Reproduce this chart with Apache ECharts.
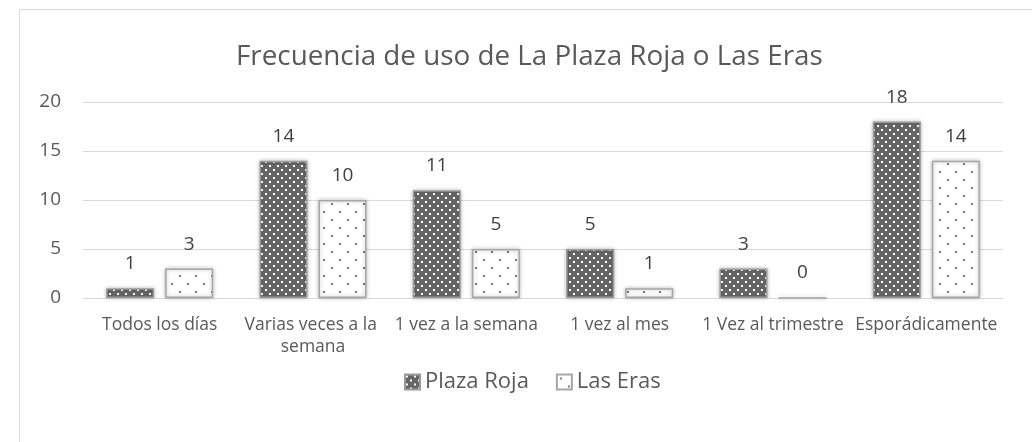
<!DOCTYPE html>
<html>
<head>
<meta charset="utf-8">
<script src="https://cdn.jsdelivr.net/npm/echarts@6/dist/echarts.min.js"></script>
<style>
  html, body { margin: 0; padding: 0; background: #fff; }
  #chart { width: 1032px; height: 442px; }
</style>
</head>
<body>
<div id="chart"></div>
<script>
// datos
const categories = ['Todos los días', 'Varias veces a la semana', '1 vez a la semana', '1 vez al mes', '1 Vez al trimestre', 'Esporádicamente']
const plazaRoja = [1, 14, 11, 5, 3, 18]
const lasEras = [3, 10, 5, 1, 0, 14]
const yTicks = { min: 0, max: 20, interval: 5 }

// tramas tipo Excel
function makePattern (w, h, bg, dot, dots) {
  const c = document.createElement('canvas')
  c.width = w
  c.height = h
  const ctx = c.getContext('2d')
  ctx.fillStyle = bg
  ctx.fillRect(0, 0, w, h)
  ctx.fillStyle = dot
  dots.forEach(function (d) {
    ctx.fillRect(d[0], d[1], d[2], d[3])
  })
  return { image: c, repeat: 'repeat' }
}

const darkDots = makePattern(8, 8, '#666666', '#ffffff', [[1, 1, 2, 2], [5, 5, 2, 2]])
const lightDots = makePattern(16, 16, '#ffffff', '#7a7a7a', [[3, 3, 2, 2], [11, 11, 2, 2]])

const chart = echarts.init(document.getElementById('chart'))

const barCommon = {
  type: 'bar',
  barWidth: 48,
  barGap: '23%',
  label: {
    show: true,
    position: 'top',
    distance: 15,
    color: '#404040',
    fontSize: 19,
    fontFamily: 'Open Sans'
  }
}

const option = {
  animation: false,
  textStyle: { fontFamily: 'Open Sans' },
  title: {
    text: 'Frecuencia de uso de La Plaza Roja o Las Eras',
    left: 231,
    top: 38,
    textStyle: {
      color: '#595959',
      fontSize: 27.8,
      fontWeight: 'normal',
      fontFamily: 'Open Sans'
    }
  },
  graphic: [
    {
      type: 'rect',
      shape: { x: 19.5, y: 9.5, width: 1100, height: 500 },
      style: { fill: 'none', stroke: '#d9d9d9', lineWidth: 1 },
      silent: true
    }
  ],
  legend: {
    top: 366,
    left: 399,
    itemWidth: 15,
    itemHeight: 15,
    itemGap: 27,
    icon: 'rect',
    textStyle: {
      color: '#595959',
      fontSize: 22,
      fontFamily: 'Open Sans'
    },
    data: ['Plaza Roja', 'Las Eras']
  },
  grid: {
    left: 83,
    right: 29,
    top: 102,
    bottom: 144,
    containLabel: false
  },
  xAxis: {
    type: 'category',
    data: categories,
    axisLine: { lineStyle: { color: '#d9d9d9', width: 1 } },
    axisTick: { show: false },
    axisLabel: {
      interval: 0,
      color: '#595959',
      fontSize: 17.5,
      fontFamily: 'Open Sans',
      margin: 16,
      width: 158,
      overflow: 'break',
      lineHeight: 22
    }
  },
  yAxis: {
    type: 'value',
    min: yTicks.min,
    max: yTicks.max,
    interval: yTicks.interval,
    axisLine: { show: false },
    axisTick: { show: false },
    splitLine: { lineStyle: { color: '#d9d9d9', width: 1 } },
    axisLabel: {
      color: '#595959',
      fontSize: 19,
      fontFamily: 'Open Sans',
      margin: 22
    }
  },
  series: [
    Object.assign({}, barCommon, {
      name: 'Plaza Roja',
      data: plazaRoja,
      itemStyle: {
        color: darkDots,
        borderColor: '#9a9a9a',
        borderWidth: 1.5,
        shadowColor: 'rgba(0,0,0,0.25)',
        shadowBlur: 4
      }
    }),
    Object.assign({}, barCommon, {
      name: 'Las Eras',
      data: lasEras,
      itemStyle: {
        color: lightDots,
        borderColor: '#a6a6a6',
        borderWidth: 1.5,
        shadowColor: 'rgba(0,0,0,0.25)',
        shadowBlur: 4
      }
    })
  ]
}

chart.setOption(option)
</script>
</body>
</html>
